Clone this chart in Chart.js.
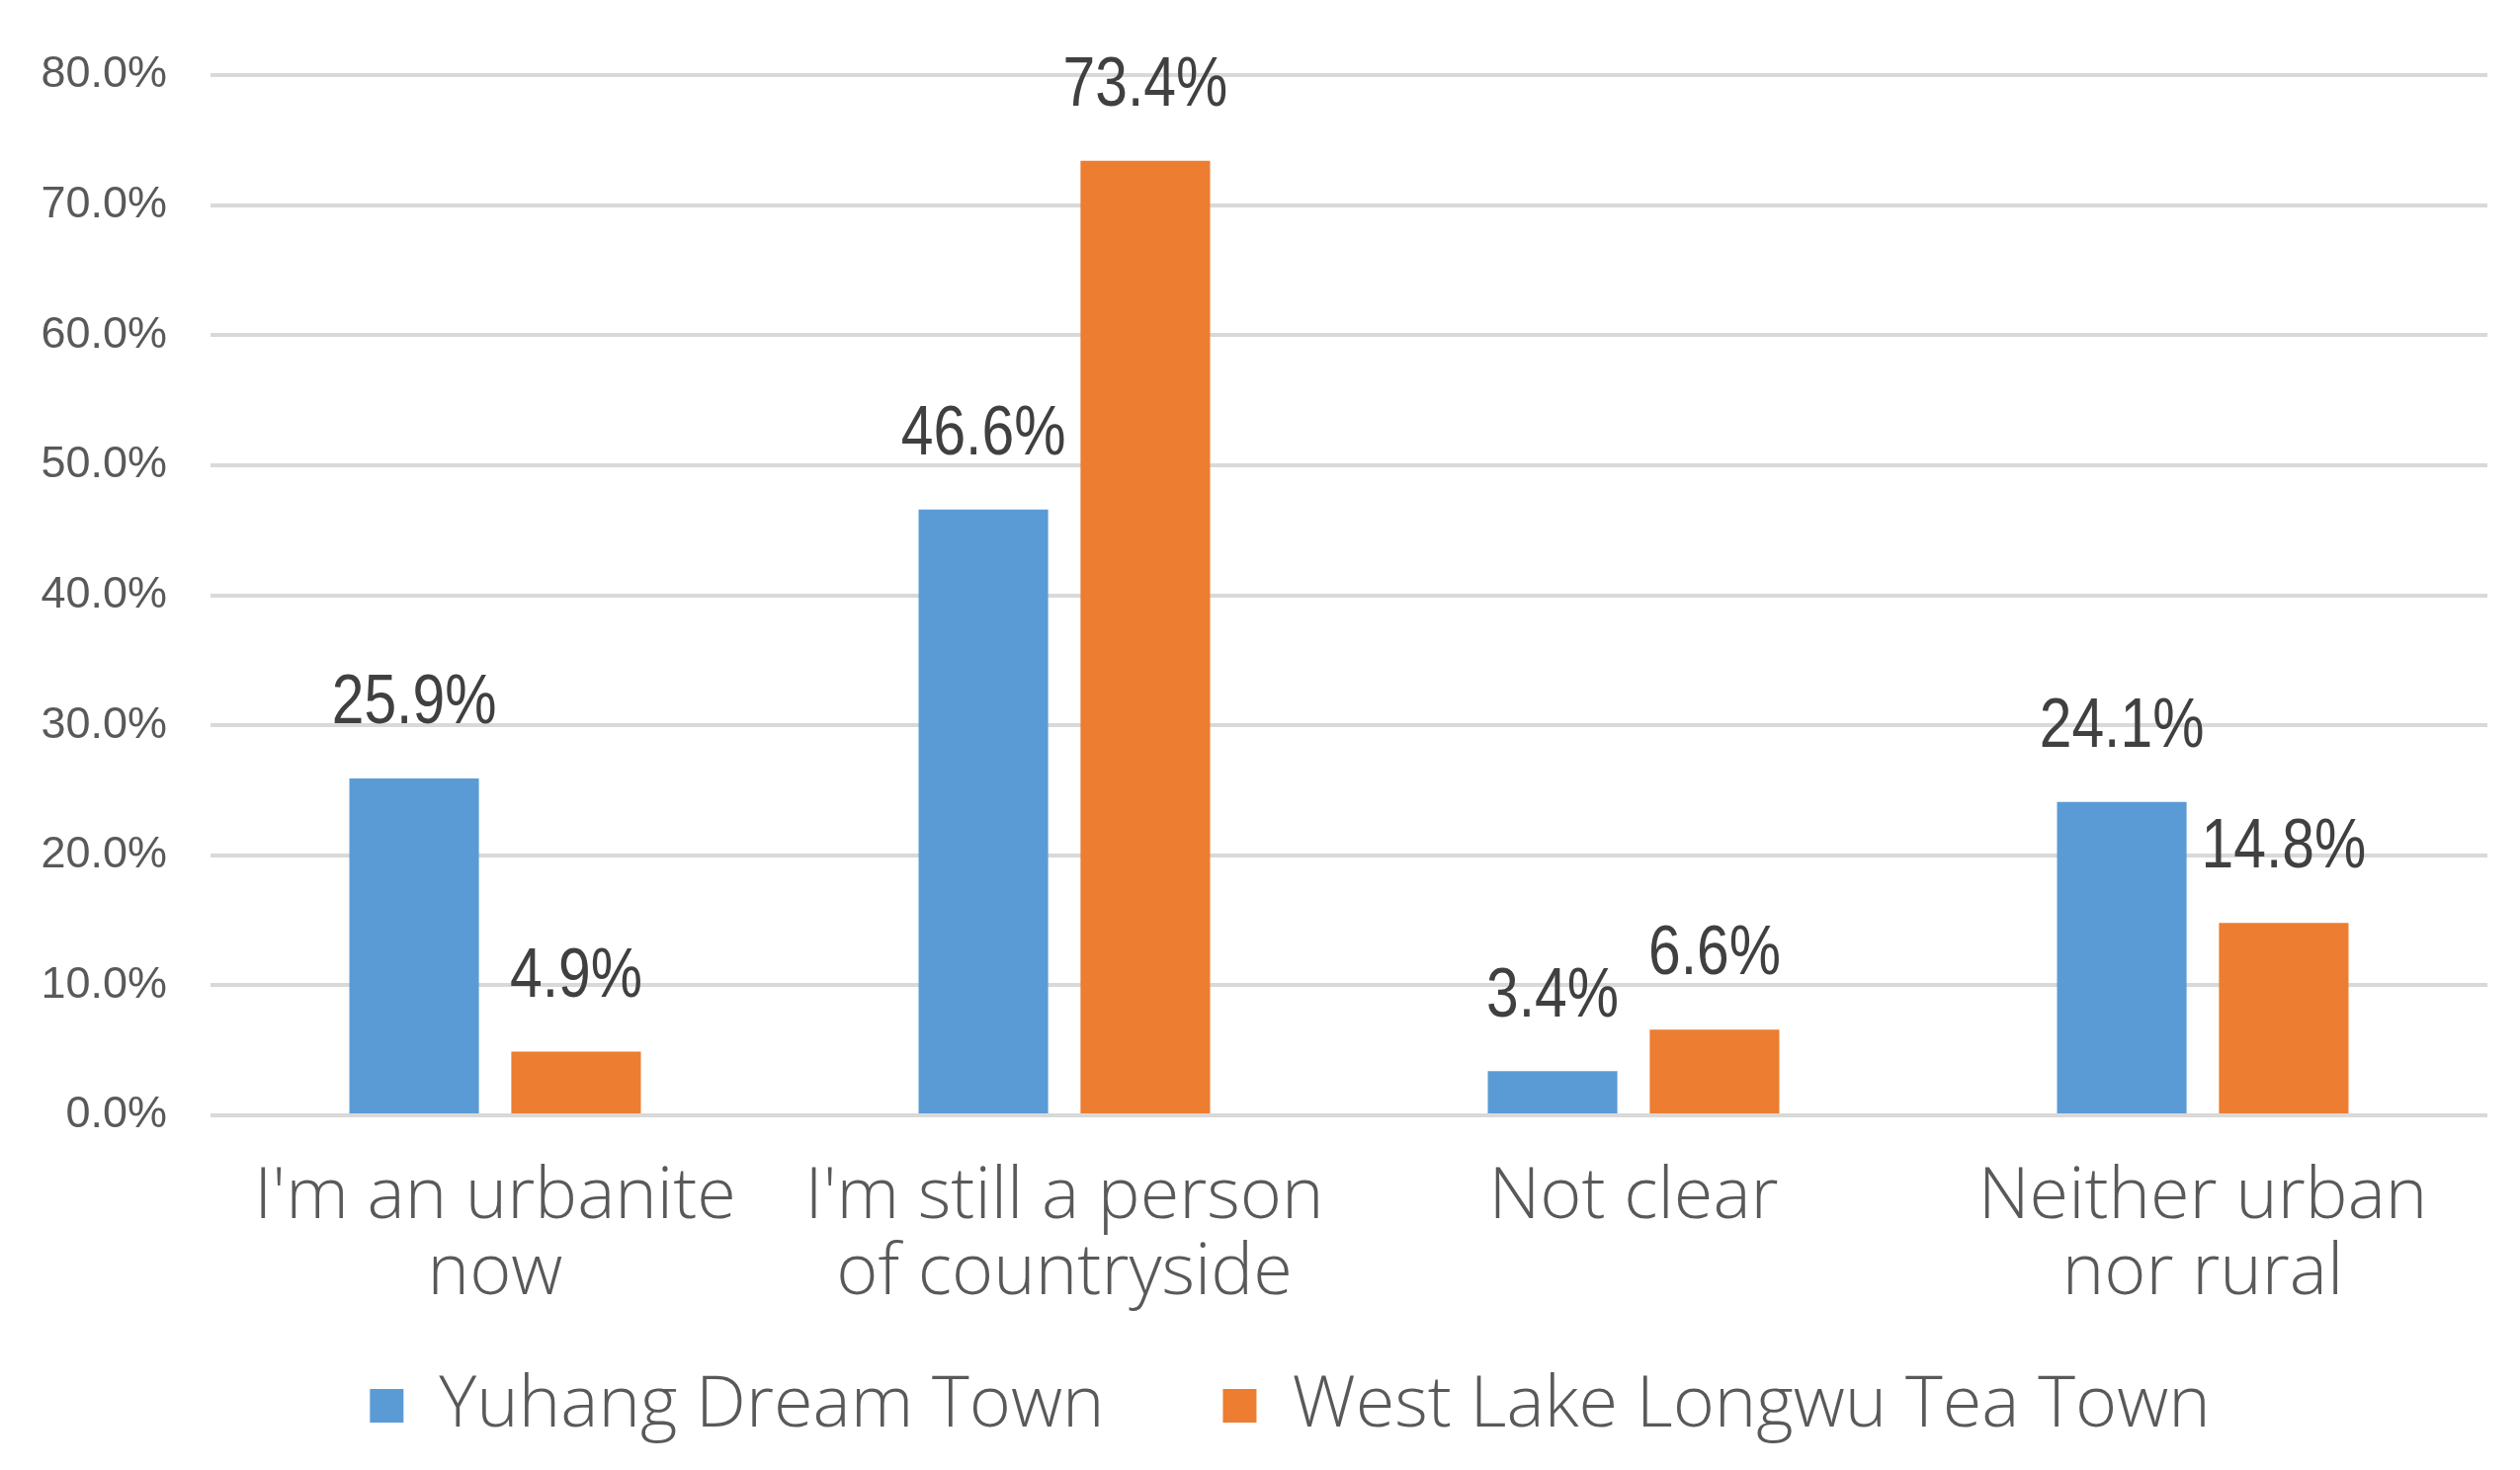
<!DOCTYPE html>
<html>
<head>
<meta charset="utf-8">
<script src="https://cdn.jsdelivr.net/npm/chart.js@4.4.1/dist/chart.umd.min.js"></script>
<style>
  html, body { margin: 0; padding: 0; background: #ffffff; }
  #wrap { width: 2550px; height: 1488px; position: relative; }
</style>
</head>
<body>
<div id="wrap"><canvas id="mainChart"></canvas></div>
<script>
// 카테고리 / 시리즈 데이터
const categories = [
  ["I'm an urbanite", "now"],
  ["I'm still a person", "of countryside"],
  ["Not clear"],
  ["Neither urban", "nor rural"]
];
const seriesNames = ['Yuhang Dream Town', 'West Lake Longwu Tea Town'];
const yuhangValues = [25.9, 46.6, 3.4, 24.1];
const longwuValues = [4.9, 73.4, 6.6, 14.8];
const yTicks = [0, 10, 20, 30, 40, 50, 60, 70, 80];

const BLUE = '#5B9BD5';
const ORANGE = '#ED7D31';
const TEXT = '#595959';

// 막대 위 값 라벨 (좁은 글꼴 느낌으로 가로 압축)
const valueLabels = {
  id: 'valueLabels',
  afterLayout(chart) {
    // 범례를 원본처럼 약간 오른쪽으로
    const lg = chart.legend;
    if (lg) { lg.left += 47; lg.right += 47; }
  },
  afterDatasetsDraw(chart) {
    const ctx = chart.ctx;
    chart.data.datasets.forEach((ds, i) => {
      const meta = chart.getDatasetMeta(i);
      meta.data.forEach((bar, j) => {
        ctx.save();
        ctx.font = '70px "Liberation Sans", Arial, sans-serif';
        ctx.fillStyle = '#404040';
        ctx.textAlign = 'center';
        ctx.textBaseline = 'middle';
        ctx.translate(bar.x, bar.y - 75);
        ctx.scale(0.84, 1);
        ctx.fillText(ds.data[j].toFixed(1) + '%', 0, 0);
        ctx.restore();
      });
    });
  }
};

const ctx = document.getElementById('mainChart').getContext('2d');
const chart = new Chart(ctx, {
  type: 'bar',
  data: {
    labels: categories,
    datasets: [
      { label: seriesNames[0], data: yuhangValues, backgroundColor: BLUE },
      { label: seriesNames[1], data: longwuValues, backgroundColor: ORANGE }
    ]
  },
  options: {
    responsive: true,
    maintainAspectRatio: false,
    animation: false,
    datasets: {
      bar: { categoryPercentage: 0.569, barPercentage: 0.80 }
    },
    layout: { padding: { top: 76, left: 0, right: 33, bottom: 19 } },
    scales: {
      x: {
        grid: { display: false, drawTicks: false },
        border: { display: false },
        ticks: {
          color: TEXT,
          padding: 45,
          maxRotation: 0,
          autoSkip: false,
          font: { family: '"Open Sans", "Noto Sans", sans-serif', size: 72, weight: 300, lineHeight: 1.07 }
        },
        afterFit(scale) {
          scale.height = 138;
          // 범례 영역까지 두 번째 줄이 내려가므로 라벨 클리핑 해제
          scale._computeLabelArea = () => null;
        }
      },
      y: {
        min: 0,
        max: 80,
        afterBuildTicks(scale) { scale.ticks = yTicks.map(v => ({ value: v })); },
        grid: { color: '#D9D9D9', lineWidth: 4, drawTicks: false },
        border: { display: false },
        ticks: {
          color: TEXT,
          padding: 44,
          font: { family: '"Liberation Sans", Arial, sans-serif', size: 45 },
          callback: v => v.toFixed(1) + '%'
        },
        afterFit(scale) { scale.width = 213; }
      }
    },
    plugins: {
      legend: {
        position: 'bottom',
        labels: {
          color: TEXT,
          boxWidth: 34,
          boxHeight: 34,
          padding: 120,
          font: { family: '"Open Sans", "Noto Sans", sans-serif', size: 72, weight: 300 }
        }
      },
      tooltip: { enabled: false }
    }
  },
  plugins: [valueLabels]
});
</script>
</body>
</html>
